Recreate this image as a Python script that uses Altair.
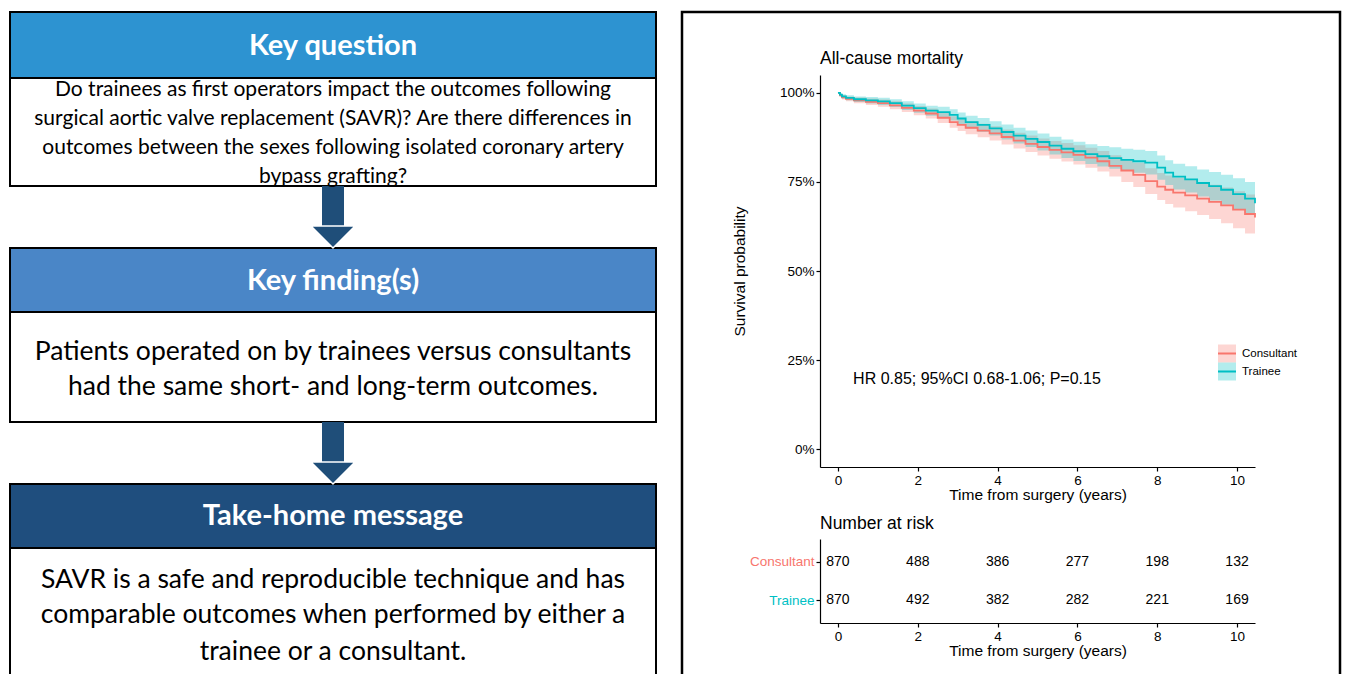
import altair as alt
import pandas as pd

# ---------------- data ----------------
groups = ["Consultant", "Trainee"]
group_colors = ["#F8766D", "#00BFC4"]

times = [0, 0.05, 0.1, 0.2, 0.4, 0.7, 1.0, 1.3, 1.6, 1.9, 2.2, 2.5, 2.8, 3.0, 3.2, 3.5,
         3.8, 4.1, 4.4, 4.7, 5.0, 5.3, 5.6, 5.9, 6.2, 6.5, 6.8, 7.1, 7.4, 7.7, 8.0, 8.2,
         8.4, 8.7, 9.0, 9.3, 9.6, 9.9, 10.2, 10.45]

surv_consultant = [1.000, 0.993, 0.987, 0.983, 0.979, 0.975, 0.971, 0.965, 0.958, 0.950,
                   0.942, 0.930, 0.918, 0.910, 0.902, 0.894, 0.886, 0.876, 0.866, 0.857,
                   0.848, 0.840, 0.833, 0.826, 0.818, 0.808, 0.795, 0.782, 0.770, 0.752,
                   0.737, 0.728, 0.720, 0.712, 0.703, 0.694, 0.684, 0.672, 0.660, 0.650]
lower_consultant = [1.000, 0.989, 0.981, 0.976, 0.971, 0.966, 0.961, 0.954, 0.946, 0.937,
                    0.928, 0.915, 0.902, 0.893, 0.884, 0.875, 0.866, 0.855, 0.844, 0.834,
                    0.824, 0.815, 0.807, 0.799, 0.790, 0.779, 0.765, 0.750, 0.736, 0.716,
                    0.699, 0.688, 0.678, 0.668, 0.657, 0.646, 0.634, 0.620, 0.605, 0.592]
upper_consultant = [1.000, 0.997, 0.993, 0.990, 0.987, 0.984, 0.981, 0.976, 0.970, 0.963,
                    0.956, 0.945, 0.934, 0.927, 0.920, 0.913, 0.906, 0.897, 0.888, 0.880,
                    0.872, 0.865, 0.859, 0.853, 0.846, 0.837, 0.825, 0.814, 0.804, 0.788,
                    0.775, 0.768, 0.762, 0.756, 0.749, 0.742, 0.734, 0.724, 0.715, 0.708]

surv_trainee = [1.000, 0.995, 0.990, 0.986, 0.982, 0.979, 0.976, 0.971, 0.964, 0.957,
                0.950, 0.946, 0.938, 0.928, 0.918, 0.910, 0.900, 0.890, 0.880, 0.871,
                0.862, 0.852, 0.843, 0.836, 0.828, 0.822, 0.817, 0.812, 0.808, 0.804,
                0.790, 0.776, 0.765, 0.757, 0.747, 0.738, 0.728, 0.716, 0.703, 0.690]
lower_trainee = [1.000, 0.991, 0.984, 0.979, 0.974, 0.970, 0.966, 0.960, 0.952, 0.944,
                 0.936, 0.931, 0.922, 0.911, 0.900, 0.891, 0.880, 0.869, 0.858, 0.848,
                 0.838, 0.827, 0.817, 0.809, 0.800, 0.793, 0.787, 0.781, 0.776, 0.771,
                 0.756, 0.741, 0.729, 0.720, 0.709, 0.698, 0.686, 0.672, 0.660, 0.650]
upper_trainee = [1.000, 0.999, 0.996, 0.993, 0.990, 0.988, 0.986, 0.982, 0.976, 0.970,
                 0.964, 0.961, 0.954, 0.945, 0.936, 0.929, 0.920, 0.911, 0.902, 0.894,
                 0.886, 0.877, 0.869, 0.863, 0.856, 0.851, 0.847, 0.843, 0.840, 0.837,
                 0.824, 0.811, 0.801, 0.794, 0.785, 0.778, 0.770, 0.760, 0.750, 0.745]

risk_times = [0, 2, 4, 6, 8, 10]
risk_consultant = [870, 488, 386, 277, 198, 132]
risk_trainee = [870, 492, 382, 282, 221, 169]

x_ticks = [0, 2, 4, 6, 8, 10]
y_ticks = [0, 0.25, 0.5, 0.75, 1.0]
stat_text = "HR 0.85; 95%CI 0.68-1.06; P=0.15"
stat_pos = [0.38, 0.197]

headers = ["Key question", "Key finding(s)", "Take-home message"]
body1_lines = ["Do trainees as first operators impact the outcomes following",
               "surgical aortic valve replacement (SAVR)?  Are there differences in",
               "outcomes between the sexes following isolated coronary artery",
               "bypass grafting?"]
body2_lines = ["Patients operated on by trainees versus consultants",
               "had the same short- and long-term outcomes."]
body3_lines = ["SAVR is a safe and reproducible technique and has",
               "comparable outcomes when performed by either a",
               "trainee or a consultant."]

# ---------------- styling ----------------
SANS = "Liberation Sans"
INFO_FONT = "Lato"
C_HEAD1, C_HEAD2, C_HEAD3 = "#2D93D1", "#4A86C7", "#1F4E7E"
C_ARROW = "#1F4E79"

# ---------------- left infographic ----------------
LW, LH = 650, 666
xs = alt.Scale(domain=[0, LW], nice=False, zero=False)
ys = alt.Scale(domain=[0, LH], nice=False, zero=False, reverse=True)

box_layout = pd.DataFrame({
    "x1": [2, 2, 2, 2, 2, 2],
    "x2": [648, 648, 648, 648, 648, 648],
    "y1": [4, 70, 240, 304, 476, 540],
    "y2": [70, 178, 304, 414, 540, 685],
    "fill": [C_HEAD1, "#FFFFFF", C_HEAD2, "#FFFFFF", C_HEAD3, "#FFFFFF"],
})
boxes = alt.Chart(box_layout).mark_rect(stroke="black", strokeWidth=2).encode(
    x=alt.X("x1:Q", scale=xs, axis=None), x2="x2:Q",
    y=alt.Y("y1:Q", scale=ys, axis=None), y2="y2:Q",
    fill=alt.Fill("fill:N", scale=None),
)

shaft_layout = pd.DataFrame({"x1": [314, 314], "x2": [336, 336],
                             "y1": [178, 414], "y2": [220, 456]})
shafts = alt.Chart(shaft_layout).mark_rect(fill=C_ARROW).encode(
    x=alt.X("x1:Q", scale=xs, axis=None), x2="x2:Q",
    y=alt.Y("y1:Q", scale=ys, axis=None), y2="y2:Q",
)
head_layout = pd.DataFrame({"x": [325, 325], "y": [229, 465]})
heads = alt.Chart(head_layout).mark_point(
    shape="M-1,-0.5L1,-0.5L0,0.5Z", size=44 * 44, filled=True, fill=C_ARROW,
    stroke="white", strokeWidth=1.5, opacity=1,
).encode(x=alt.X("x:Q", scale=xs, axis=None), y=alt.Y("y:Q", scale=ys, axis=None))

frame_layout = pd.DataFrame({"x1": [674], "x2": [1332], "y1": [4], "y2": [685]})
frame = alt.Chart(frame_layout).mark_rect(filled=False, stroke="black", strokeWidth=2.5).encode(
    x=alt.X("x1:Q", scale=xs, axis=None), x2="x2:Q",
    y=alt.Y("y1:Q", scale=ys, axis=None), y2="y2:Q",
)

head_df = pd.DataFrame({"x": [325] * 3, "y": [38, 273, 508], "t": headers})
head_text = alt.Chart(head_df).mark_text(
    font=INFO_FONT, fontSize=29, fontWeight="bold", color="white", baseline="middle"
).encode(x=alt.X("x:Q", scale=xs, axis=None), y=alt.Y("y:Q", scale=ys, axis=None), text="t:N")

b1 = pd.DataFrame({"x": [325] * 4, "y": [82, 111, 140, 169], "t": body1_lines})
b2 = pd.DataFrame({"x": [325] * 2, "y": [344, 379], "t": body2_lines})
b3 = pd.DataFrame({"x": [325] * 3, "y": [572, 607, 644], "t": body3_lines})


def body(df, size):
    return alt.Chart(df).mark_text(
        font=INFO_FONT, fontSize=size, color="black", baseline="middle"
    ).encode(x=alt.X("x:Q", scale=xs, axis=None), y=alt.Y("y:Q", scale=ys, axis=None), text="t:N")


left = alt.layer(boxes, shafts, heads, head_text, body(b1, 21), body(b2, 26.5), body(b3, 26.5), frame).properties(
    width=LW, height=LH
)

# ---------------- KM plot ----------------
rows = []
for g, s_l, lo_l, up_l in [("Consultant", surv_consultant, lower_consultant, upper_consultant),
                           ("Trainee", surv_trainee, lower_trainee, upper_trainee)]:
    for t, s, lo, up in zip(times, s_l, lo_l, up_l):
        rows.append({"group": g, "time": t, "surv": s, "lower": lo, "upper": up})
km_df = pd.DataFrame(rows)

color_scale = alt.Scale(domain=groups, range=group_colors)
x_scale = alt.Scale(domain=[-0.45, 10.45], nice=False, zero=False)
y_scale = alt.Scale(domain=[-0.05, 1.05], nice=False, zero=False)
x_axis = alt.Axis(values=x_ticks, title="Time from surgery (years)", grid=False, titlePadding=1)
y_axis = alt.Axis(values=y_ticks, format=".0%", title="Survival probability", grid=False, titlePadding=32)

KW, KH = 435, 392

bands = alt.Chart(km_df).mark_area(interpolate="step-after", opacity=0.3).encode(
    x=alt.X("time:Q", scale=x_scale, axis=x_axis),
    y=alt.Y("lower:Q", scale=y_scale, axis=y_axis),
    y2="upper:Q",
    color=alt.Color("group:N", scale=color_scale, legend=None),
)
lines = alt.Chart(km_df).mark_line(interpolate="step-after", strokeWidth=1.8).encode(
    x=alt.X("time:Q", scale=x_scale, axis=x_axis),
    y=alt.Y("surv:Q", scale=y_scale, axis=y_axis),
    color=alt.Color("group:N", scale=color_scale, legend=None),
)
stat_df = pd.DataFrame({"time": [stat_pos[0]], "surv": [stat_pos[1]], "t": [stat_text]})
stat = alt.Chart(stat_df).mark_text(align="left", baseline="middle", fontSize=16, font=SANS, color="black").encode(
    x=alt.X("time:Q", scale=x_scale, axis=x_axis),
    y=alt.Y("surv:Q", scale=y_scale, axis=y_axis),
    text="t:N",
)

legend_layers = []
for i, (g, c) in enumerate(zip(groups, group_colors)):
    gdf = pd.DataFrame({"group": [g]})
    yy = 278.5 + 18 * i
    legend_layers.append(alt.Chart(gdf).mark_square(size=18 * 18, opacity=0.3, color=c).encode(
        x=alt.value(407), y=alt.value(yy)))
    legend_layers.append(alt.Chart(gdf).mark_rule(strokeWidth=2, color=c).encode(
        x=alt.value(398), x2=alt.value(416), y=alt.value(yy)))
    legend_layers.append(alt.Chart(gdf).mark_text(align="left", baseline="middle", fontSize=11.5,
                                                  font=SANS, color="black").encode(
        x=alt.value(422), y=alt.value(yy), text="group:N"))

km = alt.layer(bands, lines, stat, *legend_layers).properties(
    width=KW, height=KH,
    title=alt.TitleParams("All-cause mortality", anchor="start", frame="group", fontSize=17.5,
                          fontWeight="normal", font=SANS, color="black", offset=8),
)

# ---------------- risk table ----------------
rrows = []
for g, vals in [("Consultant", risk_consultant), ("Trainee", risk_trainee)]:
    for t, n in zip(risk_times, vals):
        rrows.append({"group": g, "time": t, "n": n})
risk_df = pd.DataFrame(rrows)

risk = alt.Chart(risk_df).mark_text(fontSize=14, font=SANS, color="black", baseline="middle").encode(
    x=alt.X("time:Q", scale=x_scale, axis=x_axis),
    y=alt.Y("group:N", sort=groups, scale=alt.Scale(padding=0.605),
            axis=alt.Axis(title=None, labelFontSize=13.5, labelPadding=2,
                          labelColor={"expr": "datum.value === 'Consultant' ? '#F8766D' : '#00BFC4'"})),
    text="n:Q",
).properties(
    width=KW, height=84,
    title=alt.TitleParams("Number at risk", anchor="start", frame="group", fontSize=17.5,
                          fontWeight="normal", font=SANS, color="black", offset=7),
)

spacer = alt.Chart(pd.DataFrame({"v": [0]})).mark_point(opacity=0, size=1).encode(
    x=alt.value(200), y=alt.value(30)).properties(width=KW, height=67)

right = alt.vconcat(spacer, alt.vconcat(km, risk, spacing=72, bounds="flush"), spacing=0, bounds="flush")

chart = alt.hconcat(left, right, spacing=162, bounds="flush").properties(
    padding=0, background="white"
).configure_view(strokeWidth=0).configure_axis(
    labelFont=SANS, titleFont=SANS, labelColor="black", titleColor="black",
    domainColor="black", tickColor="black", tickSize=4, labelFontSize=13.5,
    titleFontSize=15.5, titleFontWeight="normal", grid=False, domainWidth=1.2, tickWidth=1.2,
)

chart.save("out.html", embed_options={"renderer": "svg", "actions": False})
